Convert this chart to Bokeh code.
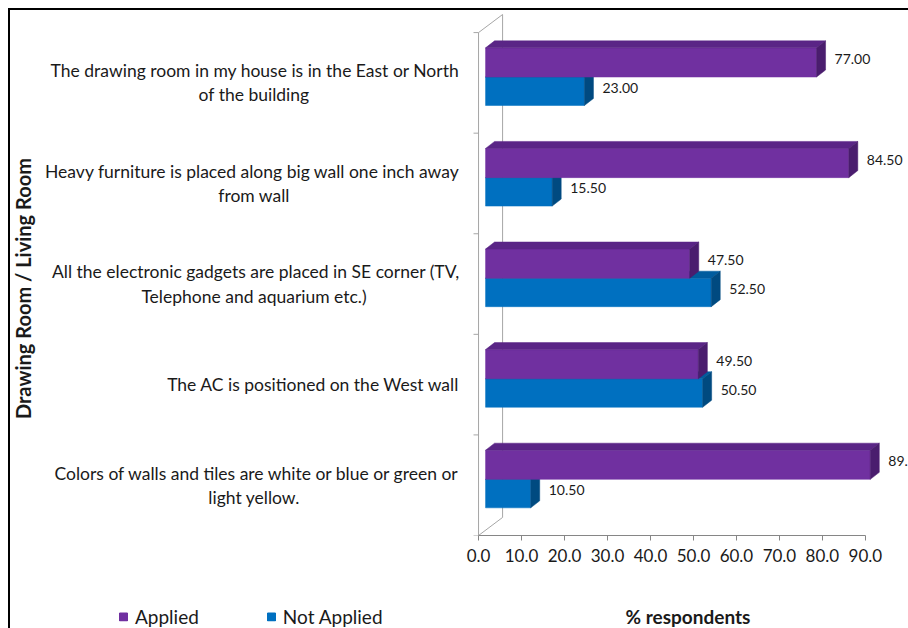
import math
from bokeh.plotting import figure
from bokeh.layouts import column
from bokeh.models import (Range1d, LinearAxis, FixedTicker, PrintfTickFormatter,
                          Legend, LegendItem)
from bokeh.core.properties import value
from bokeh.embed import file_html
from bokeh.resources import INLINE

# ---------------- data (bottom category first) ----------------
categories = [
    "Colors of walls and tiles are white or blue or green or\nlight yellow.",
    "The AC is positioned on the West wall",
    "All the electronic gadgets are placed in SE corner (TV,\nTelephone and aquarium etc.)",
    "Heavy furniture is placed along big wall one inch away\nfrom wall",
    "The drawing room in my house is in the East or North\nof the building",
]
applied = [89.5, 49.5, 47.5, 84.5, 77.0]
not_applied = [10.5, 50.5, 52.5, 15.5, 23.0]
x_ticks = [0, 10, 20, 30, 40, 50, 60, 70, 80, 90]
series_names = ["Applied", "Not Applied"]
y_title = "Drawing Room / Living Room"
x_title = "% respondents"

# ---------------- layout / style ----------------
FONT = "Lato"
TXT = "#1a1a1a"
OUT_W = 900                   # element width incl. 2px left border (border-box)
W = OUT_W - 2                 # canvas width
H_MAIN = 596                  # main element height incl. 2px top border
H_FOOT = 24                   # footer (legend + axis title) height
PX = 386 / 90.0               # pixels per % unit
PY = 100.2                    # pixels per category
ZERO_PX = 467                 # canvas x of value 0
FRAME_H = 523
NAN = float("nan")


def ux(px):
    return px / PX


def uy(px):
    return px / PY


x_start = -ZERO_PX / PX
x_range = Range1d(x_start, x_start + W / PX)
y_range = Range1d(0, FRAME_H / PY)

BAR_SHIFT = ux(7)
DX, DY = ux(9), uy(7)
WALL_X, WALL_Y = ux(24), uy(18)
A_LO, A_HI = 0.558, 0.848
N_LO, N_HI = 0.275, 0.558

COL = {
    "Applied": ("#7030A0", "#5A2586", "#4A1D6E"),
    "Not Applied": ("#0070C0", "#005C9E", "#004A80"),
}

p = figure(width=OUT_W, height=H_MAIN, x_range=x_range, y_range=y_range,
           x_axis_type=None, y_axis_type=None, toolbar_location=None,
           output_backend="svg", min_border_left=0, min_border_right=0,
           min_border_top=0, min_border_bottom=H_MAIN - 2 - FRAME_H,
           outline_line_color=None, background_fill_color="white",
           border_fill_color="white")
p.styles = {"margin-left": "8px", "margin-top": "8px",
            "border-left": "2px solid #000000", "border-top": "2px solid #000000"}

n = len(categories)

# ---------------- walls ----------------
WALL_C = "#A6A6A6"
p.segment(x0=[0], y0=[0], x1=[0], y1=[n], line_color=WALL_C, line_width=1)
p.segment(x0=[0, 0], y0=[0, n], x1=[WALL_X, WALL_X], y1=[WALL_Y, n + WALL_Y],
          line_color=WALL_C, line_width=1)
p.segment(x0=[WALL_X], y0=[WALL_Y], x1=[WALL_X], y1=[n + WALL_Y],
          line_color=WALL_C, line_width=1)
ticks_y = list(range(n + 1))
p.segment(x0=[-ux(5)] * len(ticks_y), y0=ticks_y, x1=[0] * len(ticks_y), y1=ticks_y,
          line_color=WALL_C, line_width=1)


# ---------------- bars ----------------
def draw_series(vals, lo, hi, name):
    front_c, top_c, side_c = COL[name]
    left = [BAR_SHIFT] * len(vals)
    right = [BAR_SHIFT + v for v in vals]
    bottom = [i + lo for i in range(len(vals))]
    top = [i + hi for i in range(len(vals))]
    txs, tys, sxs, sys_ = [], [], [], []
    for l, r, b, t in zip(left, right, bottom, top):
        txs.append([l, r, r + DX, l + DX])
        tys.append([t, t, t + DY, t + DY])
        sxs.append([r, r + DX, r + DX, r])
        sys_.append([b, b + DY, t + DY, t])
    p.quad(left=left, right=right, bottom=bottom, top=top,
           fill_color=front_c, line_color=front_c, line_width=0.5)
    p.patches(xs=txs, ys=tys, fill_color=top_c, line_color=top_c, line_width=0.5)
    p.patches(xs=sxs, ys=sys_, fill_color=side_c, line_color=side_c, line_width=0.5)
    lx = [r + DX + ux(9) for r in right]
    ly = [(b + t) / 2 + DY / 2 for b, t in zip(bottom, top)]
    p.text(x=lx, y=ly, text=["%.2f" % v for v in vals], text_font=value(FONT),
           text_font_size="14px", text_color=TXT, text_align="left",
           text_baseline="middle")


draw_series(not_applied, N_LO, N_HI, "Not Applied")
draw_series(applied, A_LO, A_HI, "Applied")

# ---------------- category labels ----------------
l1x, l1y, l1t, l2x, l2y, l2t = [], [], [], [], [], []
for i, c in enumerate(categories):
    parts = c.split("\n")
    if len(parts) == 1:
        l1y.append(i + 0.5)
    else:
        l1y.append(i + 0.5 + uy(12))
        l2x.append(-ux(224))
        l2y.append(i + 0.5 - uy(12))
        l2t.append(parts[1])
    l1x.append(-ux(19))
    l1t.append(parts[0])
p.text(x=l1x, y=l1y, text=l1t, text_font=value(FONT), text_font_size="17.5px",
       text_color=TXT, text_align="right", text_baseline="middle")
p.text(x=l2x, y=l2y, text=l2t, text_font=value(FONT), text_font_size="17.5px",
       text_color=TXT, text_align="center", text_baseline="middle")

# y title
p.text(x=[-ux(455)], y=[uy(246)], text=[y_title], angle=math.pi / 2,
       text_font=value(FONT), text_font_size="20px", text_font_style="bold",
       text_color=TXT, text_align="center", text_baseline="middle")

# ---------------- x axis ----------------
xa = LinearAxis(ticker=FixedTicker(ticks=x_ticks),
                formatter=PrintfTickFormatter(format="%.1f"),
                bounds=(x_ticks[0], x_ticks[-1]))
xa.axis_line_color = "#868686"
xa.major_tick_line_color = "#868686"
xa.major_tick_out = 5
xa.major_tick_in = 0
xa.minor_tick_out = 0
xa.minor_tick_in = 0
xa.major_label_text_font = FONT
xa.major_label_text_font_size = "17px"
xa.major_label_text_color = TXT
xa.major_label_standoff = 8
p.add_layout(xa, "below")

# ---------------- footer: legend + x-axis title ----------------
f = figure(width=OUT_W, height=H_FOOT, x_range=x_range, y_range=Range1d(0, 1),
           x_axis_type=None, y_axis_type=None, toolbar_location=None,
           output_backend="svg", min_border=0, outline_line_color=None,
           background_fill_color="white", border_fill_color="white")
f.styles = {"margin-left": "8px", "border-left": "2px solid #000000"}

# swatch renderers for the legend (no visible marks)
sw_a = f.quad(left=[NAN], right=[NAN], bottom=[NAN], top=[NAN],
              fill_color=COL["Applied"][0], line_color=COL["Applied"][0])
sw_n = f.quad(left=[NAN], right=[NAN], bottom=[NAN], top=[NAN],
              fill_color=COL["Not Applied"][0], line_color=COL["Not Applied"][0])
legend = Legend(items=[LegendItem(label=series_names[0], renderers=[sw_a]),
                       LegendItem(label=series_names[1], renderers=[sw_n])],
                orientation="horizontal", location="left", margin=108,
                border_line_color=None, background_fill_alpha=0,
                glyph_width=10, glyph_height=10, label_standoff=7,
                spacing=67, padding=0,
                label_text_font=FONT, label_text_font_size="19px",
                label_text_color=TXT)
f.add_layout(legend)

f.text(x=[ux(686 - 477)], y=[0.5], text=[x_title], text_font=value(FONT),
       text_font_size="19px", text_font_style="bold", text_color=TXT,
       text_align="center", text_baseline="middle")

layout = column(p, f, spacing=0)
open("out.html", "w").write(file_html(layout, INLINE))
